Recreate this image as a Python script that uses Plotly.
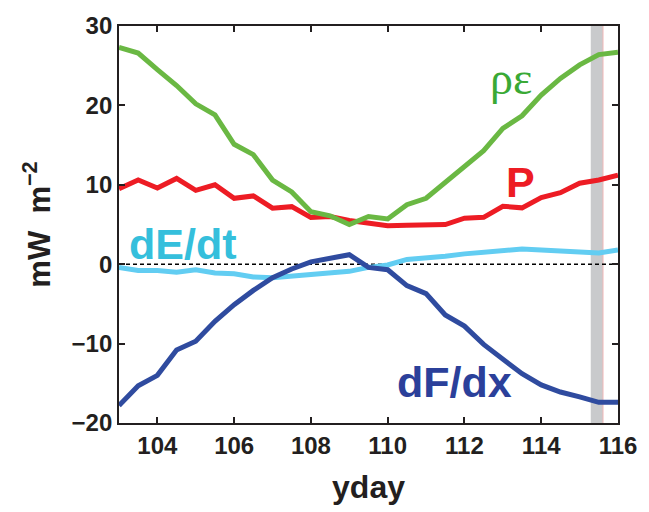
import plotly.graph_objects as go

yday = [103.0, 103.5, 104.0, 104.5, 105.0, 105.5, 106.0, 106.5, 107.0, 107.5, 108.0, 108.5, 109.0,
        109.5, 110.0, 110.5, 111.0, 111.5, 112.0, 112.5, 113.0, 113.5, 114.0, 114.5, 115.0, 115.5, 116.0]

rho_eps = [27.3, 26.6, 24.5, 22.5, 20.2, 18.8, 15.1, 13.8, 10.6, 9.1, 6.6, 6.1, 5.0,
           6.0, 5.7, 7.5, 8.3, 10.3, 12.3, 14.3, 17.1, 18.7, 21.3, 23.4, 25.1, 26.4, 26.7]
P = [9.5, 10.6, 9.6, 10.8, 9.3, 10.0, 8.3, 8.6, 7.05, 7.25, 5.9, 6.0, 5.5,
     5.2, 4.85, 4.9, 5.0, 5.0, 5.8, 5.9, 7.3, 7.1, 8.4, 9.0, 10.2, 10.6, 11.2]
dEdt = [-0.4, -0.8, -0.8, -1.0, -0.7, -1.1, -1.2, -1.6, -1.7, -1.5, -1.3, -1.0, -0.9,
        -0.4, -0.1, 0.6, 0.75, 1.0, 1.3, 1.5, 1.8, 1.9, 1.8, 1.7, 1.6, 1.4, 1.8]
dFdx = [-17.8, -15.3, -14.0, -10.8, -9.7, -7.2, -5.1, -3.3, -1.7, -0.6, 0.3, 0.7, 1.2,
        -0.4, -0.7, -2.7, -3.7, -6.4, -7.8, -10.1, -11.9, -13.8, -15.2, -16.1, -16.7, -17.4, -17.4]

band = [115.29, 115.61]
x_ticks = [104, 106, 108, 110, 112, 114, 116]
y_ticks = [-20, -10, 0, 10, 20, 30]
y_tick_text = ["\u221220", "\u221210", "0", "10", "20", "30"]

fig = go.Figure()

# shaded band
fig.add_shape(type="rect", xref="x", yref="paper", x0=band[0], x1=band[1], y0=0, y1=1,
              fillcolor="#c9cacc", line=dict(width=0), layer="below")
fig.add_shape(type="line", xref="x", yref="paper", x0=band[1], x1=band[1], y0=0, y1=1,
              line=dict(color="#f2b8b8", width=1), layer="below")
# zero line
fig.add_shape(type="line", xref="paper", yref="y", x0=0, x1=1, y0=0, y1=0,
              line=dict(color="black", width=1.5, dash="4px,3px"), layer="below")

lw = 5
fig.add_trace(go.Scatter(x=yday, y=dEdt, mode="lines", line=dict(color="#62cdf2", width=lw)))
fig.add_trace(go.Scatter(x=yday, y=dFdx, mode="lines", line=dict(color="#2f4b9f", width=lw)))
fig.add_trace(go.Scatter(x=yday, y=P, mode="lines", line=dict(color="#ed1c24", width=lw)))
fig.add_trace(go.Scatter(x=yday, y=rho_eps, mode="lines", line=dict(color="#6ab843", width=lw)))

bold = "Arial, Liberation Sans, sans-serif"
fig.add_annotation(x=113.2, y=23.4, text="ρε", showarrow=False,
                   font=dict(family="Liberation Serif, DejaVu Serif, serif", size=46, color="#3aa935"))
fig.add_annotation(x=113.45, y=10.4, text="P", showarrow=False,
                   font=dict(family=bold, size=43, color="#ed1c24", weight="bold"))
fig.add_annotation(x=104.65, y=2.5, text="dE/dt", showarrow=False,
                   font=dict(family=bold, size=43, color="#35bfdc", weight="bold"))
fig.add_annotation(x=111.75, y=-14.8, text="dF/dx", showarrow=False,
                   font=dict(family=bold, size=43, color="#2b409a", weight="bold"))

axis_common = dict(showline=True, linecolor="#231f20", linewidth=1.8, mirror="ticks",
                   ticks="inside", ticklen=6, tickwidth=1.5, tickcolor="#231f20",
                   showgrid=False, zeroline=False,
                   tickfont=dict(family=bold, size=24, color="#231f20", weight="bold"))

fig.update_xaxes(range=[103, 116], tickvals=x_ticks, ticktext=[str(v) for v in x_ticks],
                 title=dict(text="yday", font=dict(family=bold, size=32, color="#231f20", weight="bold"), standoff=18),
                 **axis_common)
fig.update_yaxes(range=[-20, 30], tickvals=y_ticks, ticktext=y_tick_text,
                 title=dict(text="mW  m<sup>\u22122</sup>", font=dict(family=bold, size=31, color="#231f20", weight="bold"), standoff=12),
                 **axis_common)

fig.update_layout(width=649, height=512, margin=dict(l=119, r=26, t=20, b=89),
                  plot_bgcolor="white", paper_bgcolor="white", showlegend=False)

fig.write_html("out.html")
